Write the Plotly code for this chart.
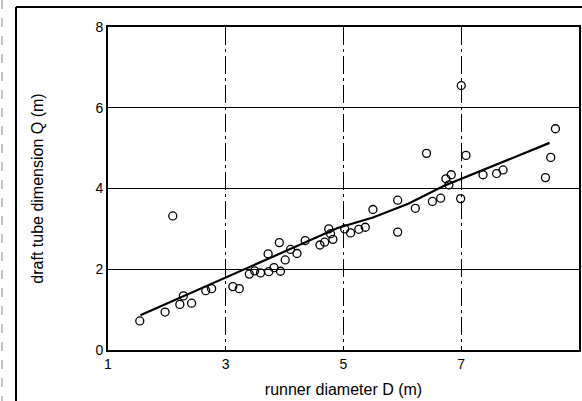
import plotly.graph_objects as go

# Measured runner diameter D (m) and draft tube dimension Q (m)
runner_d = [1.54, 1.97, 2.10, 2.22, 2.28, 2.42, 2.66, 2.76,
            3.12, 3.23, 3.40, 3.49, 3.59, 3.72, 3.73, 3.82, 3.91, 3.93,
            4.01, 4.10, 4.21, 4.35, 4.60, 4.68, 4.75, 4.78, 4.82,
            5.02, 5.12, 5.26, 5.37, 5.50, 5.92, 5.92, 6.22, 6.41,
            6.51, 6.65, 6.74, 6.79, 6.83, 6.99, 7.00, 7.08, 7.37,
            7.60, 7.71, 8.43, 8.52, 8.60]
draft_q = [0.72, 0.94, 3.32, 1.13, 1.34, 1.16, 1.47, 1.52,
           1.57, 1.52, 1.88, 1.96, 1.91, 2.38, 1.94, 2.04, 2.66, 1.95,
           2.23, 2.49, 2.39, 2.71, 2.60, 2.67, 3.00, 2.88, 2.74,
           3.00, 2.90, 2.99, 3.04, 3.48, 3.71, 2.92, 3.51, 4.87,
           3.68, 3.76, 4.24, 4.09, 4.34, 3.75, 6.55, 4.82, 4.34,
           4.37, 4.46, 4.27, 4.77, 5.48]

# Fitted trend line
trend_d = [1.55, 3.0, 4.9, 5.5, 6.1, 6.7, 8.5]
trend_q = [0.86, 1.79, 3.02, 3.28, 3.62, 4.06, 5.13]

x_ticks = [1, 3, 5, 7, 9]
y_ticks = [0, 2, 4, 6, 8]

W, H = 582, 401

fig = go.Figure()
fig.add_trace(go.Scatter(
    x=trend_d, y=trend_q, mode="lines",
    line=dict(color="black", width=2.2), hoverinfo="skip"))
fig.add_trace(go.Scatter(
    x=runner_d, y=draft_q, mode="markers",
    marker=dict(symbol="circle-open", size=8, color="black",
                line=dict(width=1.3, color="black"))))

font = dict(family="Liberation Sans, Arial, sans-serif", color="black")

fig.update_layout(
    width=W, height=H,
    margin=dict(l=0, r=0, t=0, b=0, autoexpand=False),
    paper_bgcolor="white", plot_bgcolor="white",
    showlegend=False,
    font=font,
    xaxis=dict(
        domain=[108 / W, 579 / W], automargin=False,
        range=[1, 9], tickvals=x_ticks, ticktext=[str(v) for v in x_ticks],
        showgrid=True, gridcolor="black", gridwidth=1,
        griddash="18px,4px,3px,4px",
        showline=True, linecolor="black", linewidth=2, mirror=True,
        zeroline=False, ticks="", tickfont=dict(size=14, **font),
        title=dict(text="runner diameter D (m)", font=dict(size=16, **font),
                   standoff=13),
    ),
    yaxis=dict(
        domain=[51 / H, 374 / H], automargin=False,
        range=[0, 8], tickvals=y_ticks, ticktext=[str(v) for v in y_ticks],
        showgrid=True, gridcolor="black", gridwidth=1,
        showline=True, linecolor="black", linewidth=2, mirror=True,
        zeroline=False, ticks="", tickfont=dict(size=14, **font),
        title=dict(text="draft tube dimension Q (m)", font=dict(size=16, **font),
                   standoff=48),
    ),
    shapes=[
        # outer frame: top edge and left edge
        dict(type="line", xref="paper", yref="paper", layer="above",
             x0=16 / W, x1=1.0, y0=394 / H, y1=394 / H,
             line=dict(color="black", width=2)),
        dict(type="line", xref="paper", yref="paper", layer="above",
             x0=16 / W, x1=16 / W, y0=394 / H, y1=0.0,
             line=dict(color="black", width=2)),
        # faint fold mark at the far left
        dict(type="line", xref="paper", yref="paper", layer="above",
             x0=2 / W, x1=2 / W, y0=1.0, y1=0.0,
             line=dict(color="#888", width=1, dash="dash")),
    ],
)

fig.write_html("out.html")
